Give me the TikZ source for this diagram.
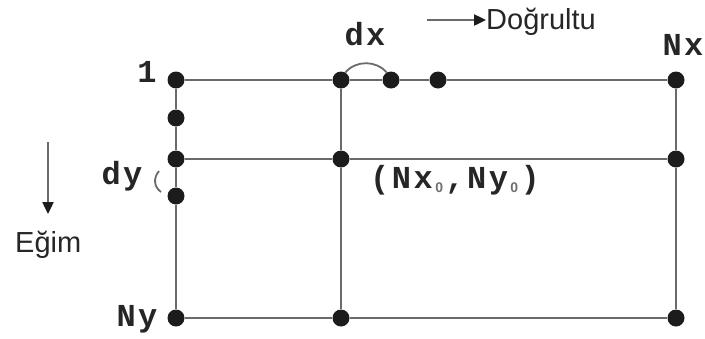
\documentclass[tikz,border=0pt]{standalone}
\usepackage{fontspec}
\setmainfont{Liberation Sans}
\newfontfamily\cour[LetterSpace=8]{Liberation Mono}
\usetikzlibrary{arrows.meta}
\definecolor{ln}{HTML}{6A6A6A}
\definecolor{dt}{HTML}{1C1C1C}
\definecolor{tx}{HTML}{262626}
\definecolor{sub}{HTML}{707070}
\newcommand{\subzero}{\raisebox{-4pt}{\rmfamily\fontsize{14}{14}\selectfont\color{sub}\,0\,}}
\begin{document}
\begin{tikzpicture}[x=1pt,y=-1pt,
  dot/.style={circle,fill=dt,inner sep=0pt,minimum size=17pt},
  gridline/.style={draw=ln,line width=2.6pt},
  mono/.style={font=\cour\bfseries\fontsize{32}{32}\selectfont,text=tx,inner sep=0pt,anchor=base},
  sans/.style={font=\fontsize{29}{29}\selectfont,text=tx,inner sep=0pt,anchor=base west},
  arr/.style={draw=ln,line width=2.4pt,-{Triangle[length=12pt,width=11pt,color=dt]}},
  bracket/.style={draw=ln,line width=1.8pt}]
\useasboundingbox (0,0) rectangle (705,338);
% dots
\node[dot] (a11) at (176,80) {};
\node[dot] (a12) at (341,80) {};
\node[dot] (a13) at (676,80) {};
\node[dot] (a21) at (176,159) {};
\node[dot] (a22) at (341,159) {};
\node[dot] (a23) at (676,159) {};
\node[dot] (a31) at (176,318) {};
\node[dot] (a32) at (341,318) {};
\node[dot] (a33) at (676,318) {};
\node[dot] (e1) at (391,80) {};
\node[dot] (e2) at (438,80) {};
\node[dot] (v1) at (176,118) {};
\node[dot] (v2) at (176,196) {};
% grid lines
\draw[gridline] (a11) -- (a12) -- (e1) -- (e2) -- (a13);
\draw[gridline] (a21) -- (a22) -- (a23);
\draw[gridline] (a31) -- (a32) -- (a33);
\draw[gridline] (a11) -- (v1) -- (a21) -- (v2) -- (a31);
\draw[gridline] (a12) -- (a22) -- (a32);
\draw[gridline] (a13) -- (a23) -- (a33);
% spacing marks
\draw[bracket] (a12.60) to[bend left=50] (e1.120);
\draw[bracket] (159,171) .. controls (153,178) and (154,187) .. (161,192);
% labels
\node[mono] (one) at (147,82) {1};
\node[mono] (dx) at (365,45) {dx};
\node[mono] (nx) at (683,55) {Nx};
\node[mono] (dy) at (122,184) {dy};
\node[mono] (ny) at (137,326) {Ny};
\node[mono,anchor=base west] (p0) at (370,188) {(Nx\subzero,Ny\subzero)};
% direction arrows
\node[sans] (dog) at (486,29) {Doğrultu};
\coordinate (r0) at (427,20);
\draw[arr] (r0) -- (r0 -| dog.west);
\node[sans] (egim) at (15,252) {Eğim};
\coordinate (g0) at (48,142);
\coordinate (g1) at (48,214);
\draw[arr] (g0) -- (g1);
\end{tikzpicture}
\end{document}
